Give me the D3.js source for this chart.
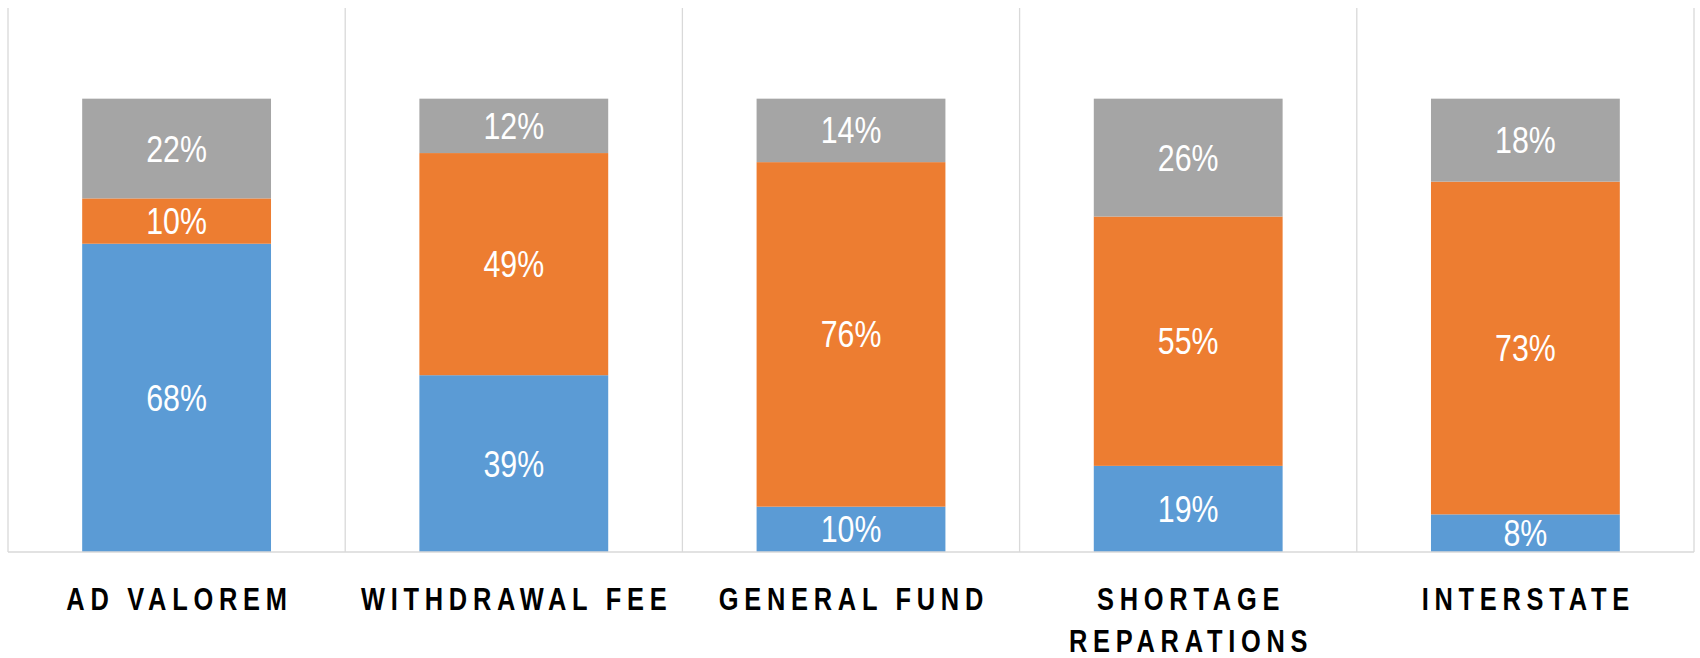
<!DOCTYPE html>
<html>
<head>
<meta charset="utf-8">
<script src="https://cdn.jsdelivr.net/npm/d3@7"></script>
<style>
  html, body { margin: 0; padding: 0; background: #fff; }
  svg { display: block; }
</style>
</head>
<body>
<svg id="chart" width="1700" height="658"></svg>
<script>
// ---- data ----
const categories = ["AD VALOREM", "WITHDRAWAL FEE", "GENERAL FUND", "SHORTAGE|REPARATIONS", "INTERSTATE"];
const seriesKeys = ["blue", "orange", "gray"];
const blueValues   = [0.68, 0.39, 0.10, 0.19, 0.083];
const orangeValues = [0.10, 0.49, 0.76, 0.55, 0.734];
const grayValues   = [0.22, 0.12, 0.14, 0.26, 0.183];
const seriesColors = ["#5b9bd5", "#ed7d31", "#a5a5a5"];
const yMax = 1.2;

// ---- layout ----
const svg = d3.select("#chart");
const plotLeft = 8, plotRight = 1694, plotTop = 8, plotBottom = 552;
const squeeze = 0.82; // horizontal compression to mimic a narrow face

const rows = categories.map((c, i) => ({
  cat: c, blue: blueValues[i], orange: orangeValues[i], gray: grayValues[i]
}));

const x = d3.scaleBand().domain(categories).range([plotLeft, plotRight]).padding(0);
const y = d3.scaleLinear().domain([0, yMax]).range([plotBottom, plotTop]);
const barFrac = 0.56;
const barW = x.bandwidth() * barFrac;
const color = d3.scaleOrdinal().domain(seriesKeys).range(seriesColors);

// gridlines (category boundaries)
const bounds = categories.map(c => x(c)).concat([plotRight]);
svg.append("g").selectAll("line").data(bounds).join("line")
  .attr("x1", d => d).attr("x2", d => d)
  .attr("y1", plotTop).attr("y2", plotBottom)
  .attr("stroke", "#d9d9d9").attr("stroke-width", 1.3);

// stacked bars
const stack = d3.stack().keys(seriesKeys)(rows);
const layers = svg.append("g").selectAll("g").data(stack).join("g")
  .attr("fill", d => color(d.key));

layers.selectAll("rect").data(d => d).join("rect")
  .attr("x", d => x(d.data.cat) + (x.bandwidth() - barW) / 2)
  .attr("width", barW)
  .attr("y", d => y(d[1]))
  .attr("height", d => y(d[0]) - y(d[1]));

// value labels
layers.selectAll("text").data(d => d).join("text")
  .attr("transform", d => `translate(${x(d.data.cat) + x.bandwidth() / 2},${(y(d[0]) + y(d[1])) / 2 + 13}) scale(${squeeze},1)`)
  .attr("text-anchor", "middle")
  .attr("fill", "#ffffff")
  .attr("font-family", "'Liberation Sans', Arial, sans-serif")
  .attr("font-size", 37)
  .text(d => Math.round((d[1] - d[0]) * 100) + "%");

// x axis baseline
svg.append("line")
  .attr("x1", plotLeft).attr("x2", plotRight)
  .attr("y1", plotBottom).attr("y2", plotBottom)
  .attr("stroke", "#d9d9d9").attr("stroke-width", 1.3);

// category labels
const ls = 7;
const catG = svg.append("g").selectAll("text").data(categories).join("text")
  .attr("transform", d => `translate(${x(d) + x.bandwidth() / 2},610) scale(${squeeze},1)`)
  .attr("text-anchor", "middle")
  .attr("fill", "#000")
  .attr("font-family", "'Liberation Sans', Arial, sans-serif")
  .attr("font-weight", "bold")
  .attr("font-size", 31)
  .attr("letter-spacing", ls);
catG.each(function(d) {
  const parts = d.split("|");
  const t = d3.select(this);
  parts.forEach((p, i) => {
    t.append("tspan")
      .attr("x", ls / 2)
      .attr("dy", i === 0 ? 0 : 42)
      .text(p);
  });
});
</script>
</body>
</html>
